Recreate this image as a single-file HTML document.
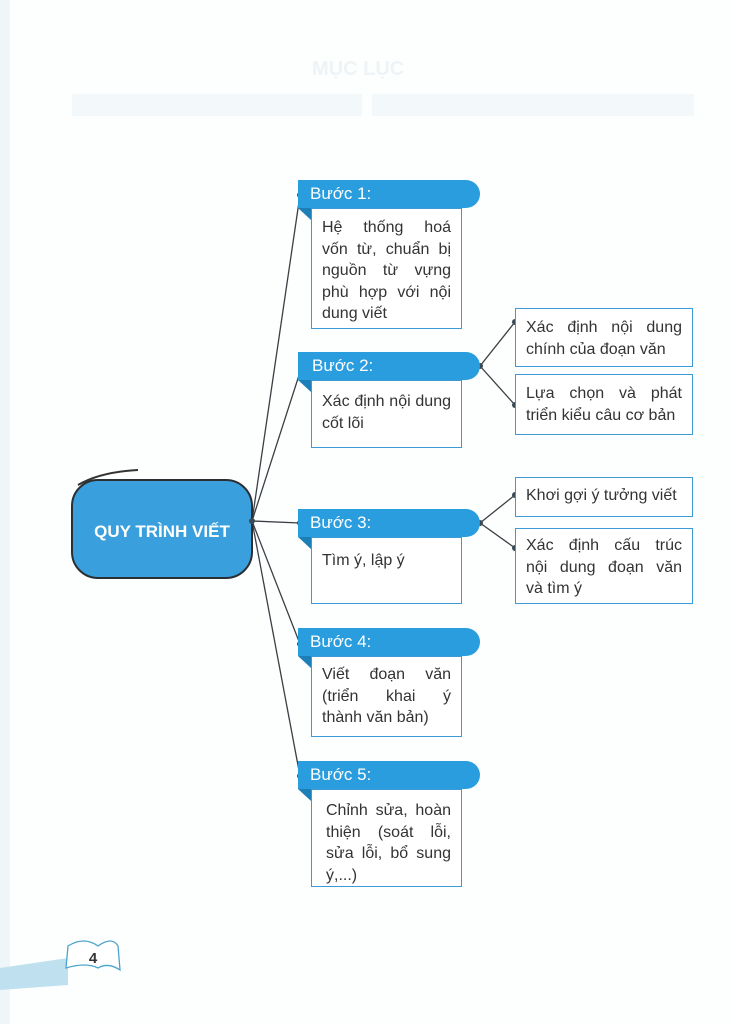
<!DOCTYPE html>
<html><head><meta charset="utf-8"><style>
body{margin:0;width:731px;height:1024px;position:relative;background:#fdfefe;overflow:hidden;font-family:"Liberation Sans","DejaVu Sans",sans-serif;}
.hd{position:absolute;left:298px;width:182px;height:28px;background:#2a9ddf;border-radius:0 14px 14px 0;color:#fff;font-size:17px;line-height:28px;box-sizing:border-box;padding-left:12px;}
.tail{position:absolute;width:0;height:0;border-left:13px solid transparent;border-top:12px solid #1d7fb8;}
.bx{position:absolute;border:1.5px solid #3d9ad6;background:#fff;box-sizing:border-box;color:#333;font-size:16px;line-height:21.5px;padding:7px 10px;white-space:nowrap;}
.bx div{text-align:justify;text-align-last:justify;}
.bx div.l{text-align-last:left;}
.rb{left:515px;width:178px;}
.faint{position:absolute;background:#f3f8fb;}
</style></head><body>
<div style="position:absolute;left:0;top:0;width:10px;height:1024px;background:#eef6f9"></div>
<div class="faint" style="left:72px;top:94px;width:290px;height:22px"></div>
<div class="faint" style="left:372px;top:94px;width:322px;height:22px"></div>
<div style="position:absolute;left:312px;top:58px;color:#eef3f6;font-weight:bold;font-size:20px">MỤC LỤC</div>
<svg width="731" height="1024" style="position:absolute;left:0;top:0">
<g stroke="#3a3f44" stroke-width="1.3" fill="none">
<line x1="252" y1="521" x2="300" y2="195"/>
<line x1="252" y1="521" x2="302" y2="366"/>
<line x1="252" y1="521" x2="300" y2="523"/>
<line x1="252" y1="521" x2="300" y2="644"/>
<line x1="252" y1="521" x2="300" y2="776"/>
<line x1="480" y1="366" x2="515" y2="322"/>
<line x1="480" y1="366" x2="515" y2="405"/>
<line x1="480" y1="523" x2="515" y2="495"/>
<line x1="480" y1="523" x2="515" y2="548"/>
</g>
<path d="M0 968 L68 958 L68 985 L0 990 Z" fill="#bfe1ef"/>
<path d="M68 946 Q84 936 98 946 Q112 936 118 946 L120 970 Q108 962 98 968 Q86 962 66 968 Z" fill="#fff" stroke="#4aa3cf" stroke-width="1.3"/>
<text x="93" y="963" font-size="15" font-weight="bold" fill="#333" text-anchor="middle" font-family="Liberation Sans">4</text>
<path d="M78 485 Q100 472 138 470" stroke="#333" stroke-width="2" fill="none"/>
<rect x="72" y="480" width="180" height="98" rx="26" fill="#3aa0dd" stroke="#2a2f33" stroke-width="2"/>
<text x="162" y="537" font-size="17" font-weight="bold" fill="#fff" text-anchor="middle" font-family="Liberation Sans">QUY TRÌNH VIẾT</text>
<g fill="#3a4a55">
<circle cx="252" cy="521" r="3"/>
<circle cx="300" cy="195" r="3"/><circle cx="302" cy="366" r="3"/><circle cx="300" cy="523" r="3"/><circle cx="300" cy="644" r="3"/><circle cx="300" cy="776" r="3"/>
<circle cx="480" cy="366" r="3"/><circle cx="480" cy="523" r="3"/>
<circle cx="515" cy="322" r="3"/><circle cx="515" cy="405" r="3"/><circle cx="515" cy="495" r="3"/><circle cx="515" cy="548" r="3"/>
</g>
</svg>

<div class="hd" style="top:180px">Bước 1:</div><div class="tail" style="left:298px;top:208px"></div>
<div class="bx" style="left:311px;top:208px;width:151px;height:121px;padding-top:8px"><div>Hệ thống hoá</div><div>vốn từ, chuẩn bị</div><div>nguồn từ vựng</div><div>phù hợp với nội</div><div class="l">dung viết</div></div>

<div class="hd" style="top:352px;padding-left:14px">Bước 2:</div><div class="tail" style="left:298px;top:380px"></div>
<div class="bx" style="left:311px;top:380px;width:151px;height:68px;padding-top:10px"><div>Xác định nội dung</div><div class="l">cốt lõi</div></div>

<div class="hd" style="top:509px">Bước 3:</div><div class="tail" style="left:298px;top:537px"></div>
<div class="bx" style="left:311px;top:537px;width:151px;height:67px;padding-top:12px"><div class="l">Tìm ý, lập ý</div></div>

<div class="hd" style="top:628px">Bước 4:</div><div class="tail" style="left:298px;top:656px"></div>
<div class="bx" style="left:311px;top:656px;width:151px;height:81px"><div>Viết đoạn văn</div><div>(triển khai ý</div><div class="l">thành văn bản)</div></div>

<div class="hd" style="top:761px">Bước 5:</div><div class="tail" style="left:298px;top:789px"></div>
<div class="bx" style="left:311px;top:789px;width:151px;height:98px;padding:10px 10px 0 14px"><div>Chỉnh sửa, hoàn</div><div>thiện (soát lỗi,</div><div>sửa lỗi, bổ sung</div><div class="l">ý,...)</div></div>

<div class="bx rb" style="top:308px;height:59px;padding-top:8px"><div>Xác định nội dung</div><div class="l">chính của đoạn văn</div></div>
<div class="bx rb" style="top:374px;height:61px;padding-top:8px"><div>Lựa chọn và phát</div><div class="l">triển kiểu câu cơ bản</div></div>
<div class="bx rb" style="top:477px;height:40px;padding-top:7px"><div class="l">Khơi gợi ý tưởng viết</div></div>
<div class="bx rb" style="top:528px;height:76px;padding-top:6px"><div>Xác định cấu trúc</div><div>nội dung đoạn văn</div><div class="l">và tìm ý</div></div>
</body></html>
